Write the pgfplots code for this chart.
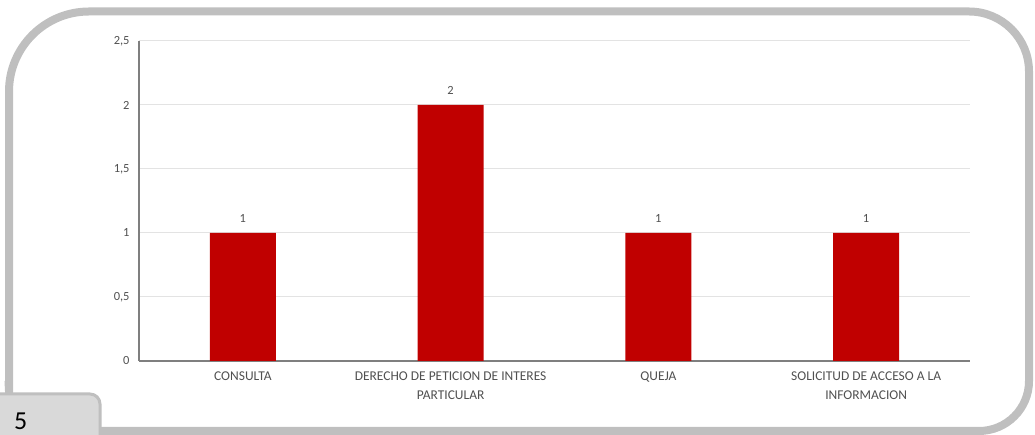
\documentclass[border=0pt]{standalone}
\usepackage{pgfplots}
\pgfplotsset{compat=1.18}
\usepackage{fontspec}
\setmainfont{Carlito}

\definecolor{framegray}{HTML}{BFBFBF}
\definecolor{tabgray}{HTML}{D9D9D9}
\definecolor{txtgray}{HTML}{505050}
\definecolor{axgray}{HTML}{7F7F7F}
\definecolor{gridgray}{HTML}{E3E3E3}
\definecolor{barred}{HTML}{C00000}

\begin{document}
\begin{tikzpicture}[x=1bp,y=1bp]
\useasboundingbox (0,0) rectangle (1035,435);

% outer rounded frame
\draw[framegray, line width=8bp]
  (9,44) -- (9,343.5) arc[start angle=180,end angle=90,radius=80bp]
  -- (969,423.5) arc[start angle=90,end angle=0,radius=60bp]
  -- (1029,54) arc[start angle=0,end angle=-90,radius=50bp]
  -- (49,4) arc[start angle=270,end angle=180,radius=40bp] -- cycle;

\begin{axis}[
    at={(139bp,74bp)}, anchor=south west,
    scale only axis, width=831bp, height=320bp,
    xmin=-0.5, xmax=3.5, ymin=0, ymax=2.5,
    ytick={0,0.5,1,1.5,2,2.5},
    xtick={0,1,2,3},
    xticklabels={CONSULTA,{DERECHO DE PETICION DE INTERES\\PARTICULAR},QUEJA,{SOLICITUD DE ACCESO A LA\\INFORMACION}},
    axis x line*=bottom, axis y line*=left,
    axis line style={axgray, line width=1.5bp, -},
    major tick length=0pt,
    ymajorgrids, grid style={gridgray, line width=1bp},
    /pgf/number format/use comma,
    /pgf/number format/assume math mode=true,
    yticklabel style={font=\fontsize{12.5}{13}\selectfont, text=txtgray, xshift=-6bp},
    xticklabel style={font=\fontsize{13.5}{19}\selectfont, text=txtgray, align=center, yshift=-7bp},
    ybar, bar width=66bp,
    nodes near coords,
    every node near coord/.append style={font=\fontsize{12.5}{13}\selectfont, text=txtgray, yshift=7bp},
]
\addplot[draw=none, fill=barred] coordinates {(0,1) (1,2) (2,1) (3,1)};
\end{axis}

% page tab
\draw[fill=tabgray, draw=framegray, line width=3bp]
  (-5,-5) -- (-5,41) -- (90,41) arc[start angle=90,end angle=0,radius=10bp] -- (100,-5);
\node[anchor=base west, inner sep=0pt, font=\fontsize{26}{28}\selectfont] at (14,5) {5};
\end{tikzpicture}
\end{document}
